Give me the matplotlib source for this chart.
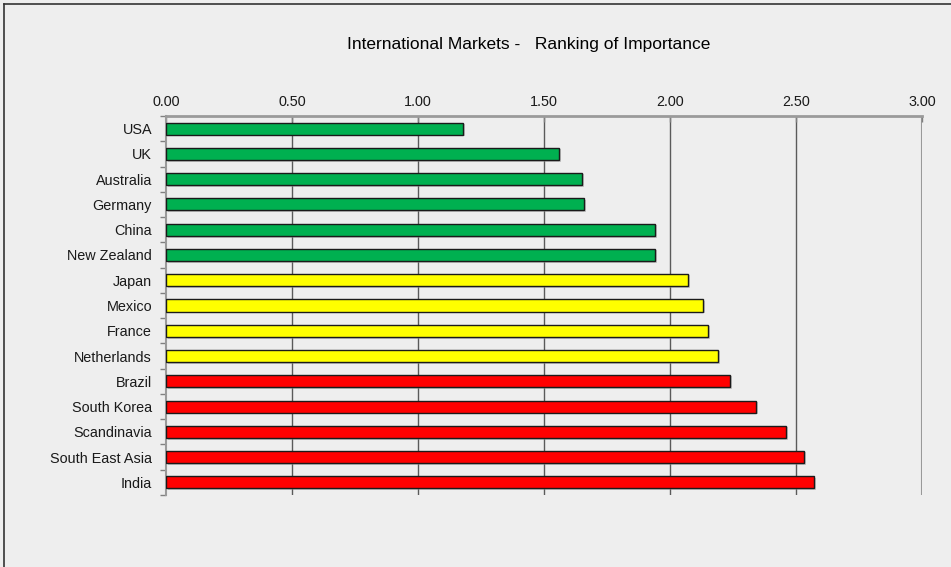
import matplotlib
matplotlib.use("Agg")
import matplotlib.pyplot as plt
from matplotlib.lines import Line2D

categories = ["USA", "UK", "Australia", "Germany", "China", "New Zealand",
              "Japan", "Mexico", "France", "Netherlands", "Brazil",
              "South Korea", "Scandinavia", "South East Asia", "India"]
values = [1.18, 1.56, 1.65, 1.66, 1.94, 1.94, 2.07, 2.13, 2.15, 2.19,
          2.24, 2.34, 2.46, 2.53, 2.57]
groups = ["green"] * 6 + ["yellow"] * 4 + ["red"] * 5
group_colors = {"green": "#00B050", "yellow": "#FFFF00", "red": "#FF0000"}
xticks = [0.0, 0.5, 1.0, 1.5, 2.0, 2.5, 3.0]
xtick_labels = ["0.00", "0.50", "1.00", "1.50", "2.00", "2.50", "3.00"]
title = "International Markets -   Ranking of Importance"

plt.rcParams['font.family'] = ['Liberation Sans', 'DejaVu Sans']
bg = "#EEEEEE"
fig = plt.figure(figsize=(9.51, 5.67), dpi=100, facecolor=bg)
ax = fig.add_axes([166/951, 1 - 495/567, (922 - 166)/951, (495 - 116)/567])
ax.set_facecolor(bg)

ypos = list(range(len(categories)))
colors = [group_colors[g] for g in groups]
# subtle shadow
ax.barh([y + 0.06 for y in ypos], values, height=0.5, left=0.008,
        color="#9a9a9a", alpha=0.5, zorder=2, linewidth=0)
ax.barh(ypos, values, height=0.48, color=colors, edgecolor="#1a1a1a",
        linewidth=1.0, zorder=3)

ax.set_xlim(0, 3.0)
ax.set_ylim(len(categories) - 0.5, -0.5)
ax.set_xticks(xticks)
ax.set_xticklabels(xtick_labels, fontsize=10.4, color="#1a1a1a")
ax.xaxis.tick_top()
ax.tick_params(axis='x', length=4, width=1, color="#808080", pad=5, direction='in')
ax.set_yticks(ypos)
ax.set_yticklabels(categories, fontsize=10.4, color="#1a1a1a")
ax.set_yticks([y - 0.5 for y in ypos] + [len(categories) - 0.5], minor=True)
ax.tick_params(axis='y', which='major', length=0, pad=10)
ax.tick_params(axis='y', which='minor', length=4, width=1, color="#808080")

for x in xticks[1:-1]:
    ax.axvline(x, color="#5a5a5a", linewidth=1.0, zorder=1)
ax.axvline(3.0, color="#999999", linewidth=1.5, zorder=1)

for side in ['bottom', 'right']:
    ax.spines[side].set_visible(False)
ax.spines['top'].set_color("#9a9a9a")
ax.spines['top'].set_linewidth(2)
ax.spines['left'].set_color("#9a9a9a")
ax.spines['left'].set_linewidth(1.5)

fig.text(529/951, 1 - 45/567, title, ha='center', va='center',
         fontsize=12.5, color="#000000")

# figure border (top and left visible)
fig.add_artist(Line2D([4/951, 1], [1 - 4/567, 1 - 4/567], transform=fig.transFigure,
                      color="#333333", linewidth=1.2))
fig.add_artist(Line2D([4/951, 4/951], [0, 1 - 4/567], transform=fig.transFigure,
                      color="#333333", linewidth=1.2))

fig.savefig("out.png", dpi=100, facecolor=bg)
